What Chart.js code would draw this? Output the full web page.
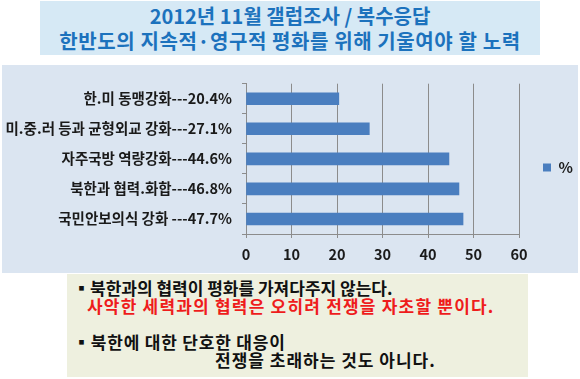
<!DOCTYPE html>
<html><head><meta charset="utf-8">
<script src="https://cdn.jsdelivr.net/npm/chart.js@4"></script>
<style>
html,body{margin:0;padding:0;background:#fff;width:580px;height:379px;overflow:hidden;font-family:"Noto Sans CJK KR","Noto Sans",sans-serif;}
#title{position:absolute;left:40px;top:1px;width:500px;height:54px;background:#d6e9f5;color:#1c72bd;font-weight:bold;font-size:20px;line-height:25px;text-align:center;}
#title div{position:absolute;left:0;width:100%;white-space:nowrap;}
#panel{position:absolute;left:2px;top:65px;width:576px;height:208px;background:#dbe5f1;}
#note{position:absolute;left:67px;top:274px;width:461px;height:103px;background:#eef0df;font-weight:bold;font-size:17px;line-height:20px;color:#111;}
#note div{position:absolute;white-space:nowrap;}
</style></head><body>
<div id="title"><div style="top:2px">2012년 11월 갤럽조사 / 복수응답</div><div style="top:27px;letter-spacing:0.6px">한반도의 지속적·영구적 평화를 위해 기울여야 할 노력</div></div>
<div id="panel"><canvas id="c" width="576" height="208"></canvas></div>
<div id="note">
<div style="left:6px;top:4px">▪북한과의 협력이 평화를 가져다주지 않는다.</div>
<div style="left:20px;top:22px;color:#ee1c1c;letter-spacing:1.2px">사악한 세력과의 협력은 오히려 전쟁을 자초할 뿐이다.</div>
<div style="left:6px;top:58px;letter-spacing:0.8px">▪북한에 대한 단호한 대응이</div>
<div style="left:148px;top:76px;letter-spacing:1px">전쟁을 초래하는 것도 아니다.</div>
</div>
<script>
const categories = ["한.미 동맹강화---20.4%","미.중.러 등과 균형외교 강화---27.1%","자주국방 역량강화---44.6%","북한과 협력.화합---46.8%","국민안보의식 강화 ---47.7%"];
const values = [20.4, 27.1, 44.6, 46.8, 47.7];
const seriesName = "%";
const xTicks = [0,10,20,30,40,50,60];

const fam = '"Noto Sans CJK KR","Noto Sans",sans-serif';
const font = {family:fam, weight:'bold', size:14.5};
const legendPlacer = {
  id:'legendPlacer',
  beforeLayout(chart){
    const lg = chart.legend;
    if (lg && !lg._patched){
      const f = lg.fit;
      lg.fit = function(){ f.call(this); this.width = 59; };
      lg._patched = true;
    }
  },
  afterLayout(chart){
    const lg = chart.legend;
    lg.left = 541; lg.right = 576; lg.top = 95; lg.bottom = 112;
  }
};
new Chart(document.getElementById('c'), {
  type:'bar',
  data:{labels:categories, datasets:[{label:seriesName, data:values, backgroundColor:'#4a7ebf', borderWidth:0, barThickness:12}]},
  options:{
    indexAxis:'y', responsive:false, animation:false, devicePixelRatio:1,
    layout:{padding:{top:10,left:0,right:0,bottom:0}},
    plugins:{legend:{position:'right', align:'start', labels:{boxWidth:8, boxHeight:8, color:'#1a1a1a', font:{family:fam,weight:'bold',size:15}, padding:0}}, tooltip:{enabled:false}},
    scales:{
      x:{min:0,max:60,afterBuildTicks:s=>{s.ticks=xTicks.map(v=>({value:v}));},
        ticks:{color:'#1a1a1a',font:font,padding:8},
        grid:{color:'#8c8c8c',tickLength:4,tickColor:'#8c8c8c'},
        border:{color:'#8c8c8c'},
        afterFit:s=>{s.height=39;}},
      y:{ticks:{color:'#1a1a1a',font:font,padding:10},
        grid:{drawOnChartArea:false,tickLength:4,color:'#8c8c8c',offset:true},
        border:{color:'#8c8c8c'},
        afterFit:s=>{s.width=244;}}
    }
  },
  plugins:[legendPlacer]
});
</script>
</body></html>
